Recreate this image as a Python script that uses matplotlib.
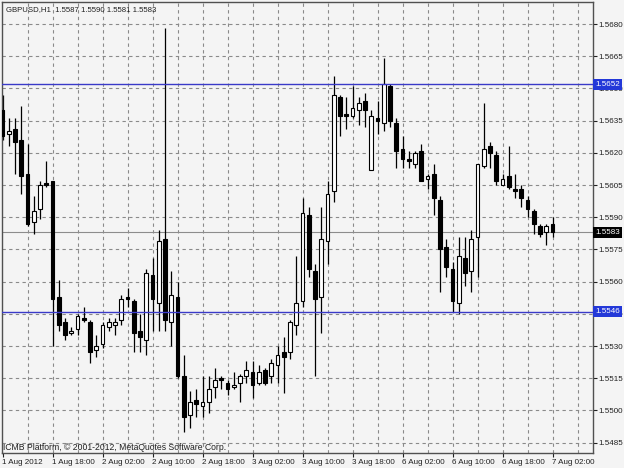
import matplotlib
matplotlib.use("Agg")
import matplotlib.pyplot as plt
import matplotlib.transforms as mtransforms

plt.rcParams['font.family'] = ['Liberation Sans', 'DejaVu Sans']

# GBPUSD H1, 1 Aug 2012 10:00 -> 7 Aug 2012 02:00
opens = [1.5640, 1.5629, 1.5631, 1.5626, 1.5610, 1.5588, 1.5594, 1.5606, 1.5607, 1.5553,
         1.5541, 1.5536, 1.5538, 1.5543, 1.5541, 1.5528, 1.5531, 1.5539, 1.5540, 1.5542,
         1.5553, 1.5551, 1.5537, 1.5533, 1.5563, 1.5550, 1.5580, 1.5541, 1.5553, 1.5516,
         1.5498, 1.5505, 1.5502, 1.5504, 1.5511, 1.5515, 1.5513, 1.5511, 1.5513, 1.5516,
         1.5518, 1.5513, 1.5519, 1.5516, 1.5521, 1.5527, 1.5527, 1.5540, 1.5551, 1.5591,
         1.5565, 1.5553, 1.5579, 1.5602, 1.5646, 1.5638, 1.5637, 1.5640, 1.5644, 1.5612,
         1.5636, 1.5634, 1.5651, 1.5634, 1.5622, 1.5617, 1.5615, 1.5621, 1.5608, 1.5610,
         1.5598, 1.5576, 1.5566, 1.5550, 1.5571, 1.5565, 1.5581, 1.5614, 1.5623, 1.5619,
         1.5605, 1.5609, 1.5603, 1.5603, 1.5598, 1.5593, 1.5586, 1.5583, 1.5587]
highs = [1.5647, 1.5636, 1.5636, 1.5642, 1.5624, 1.5600, 1.5607, 1.5616, 1.5607, 1.5561,
         1.5543, 1.5539, 1.5545, 1.5548, 1.5542, 1.5535, 1.5541, 1.5543, 1.5543, 1.5554,
         1.5557, 1.5552, 1.5545, 1.5566, 1.5571, 1.5584, 1.5678, 1.5565, 1.5560, 1.5526,
         1.5509, 1.5510, 1.5516, 1.5516, 1.5520, 1.5516, 1.5514, 1.5518, 1.5517, 1.5523,
         1.5523, 1.5521, 1.5520, 1.5524, 1.5530, 1.5534, 1.5542, 1.5572, 1.5599, 1.5595,
         1.5568, 1.5595, 1.5607, 1.5656, 1.5647, 1.5646, 1.5651, 1.5646, 1.5648, 1.5640,
         1.5644, 1.5664, 1.5652, 1.5636, 1.5628, 1.5621, 1.5621, 1.5624, 1.5610, 1.5615,
         1.5600, 1.5580, 1.5569, 1.5581, 1.5581, 1.5584, 1.5615, 1.5643, 1.5625, 1.5621,
         1.5610, 1.5623, 1.5610, 1.5605, 1.5600, 1.5594, 1.5587, 1.5587, 1.5590]
lows = [1.5626, 1.5623, 1.5610, 1.5601, 1.5586, 1.5582, 1.5589, 1.5604, 1.5530, 1.5537,
        1.5533, 1.5535, 1.5535, 1.5541, 1.5522, 1.5525, 1.5529, 1.5537, 1.5535, 1.5540,
        1.5548, 1.5527, 1.5527, 1.5526, 1.5537, 1.5537, 1.5537, 1.5530, 1.5515, 1.5490,
        1.5492, 1.5497, 1.5497, 1.5499, 1.5506, 1.5510, 1.5507, 1.5510, 1.5504, 1.5513,
        1.5506, 1.5512, 1.5512, 1.5513, 1.5513, 1.5508, 1.5524, 1.5535, 1.5548, 1.5562,
        1.5516, 1.5536, 1.5568, 1.5597, 1.5628, 1.5631, 1.5636, 1.5633, 1.5632, 1.5612,
        1.5629, 1.5630, 1.5632, 1.5613, 1.5613, 1.5613, 1.5613, 1.5607, 1.5603, 1.5591,
        1.5555, 1.5562, 1.5546, 1.5545, 1.5558, 1.5555, 1.5562, 1.5613, 1.5613, 1.5605,
        1.5605, 1.5603, 1.5599, 1.5595, 1.5590, 1.5582, 1.5581, 1.5577, 1.5581]
closes = [1.5628, 1.5630, 1.5625, 1.5609, 1.5587, 1.5593, 1.5605, 1.5605, 1.5552, 1.5540,
          1.5535, 1.5537, 1.5544, 1.5542, 1.5527, 1.5530, 1.5540, 1.5541, 1.5541, 1.5552,
          1.5552, 1.5536, 1.5534, 1.5564, 1.5552, 1.5579, 1.5542, 1.5554, 1.5516, 1.5497,
          1.5504, 1.5503, 1.5504, 1.5510, 1.5514, 1.5514, 1.5510, 1.5512, 1.5516, 1.5519,
          1.5512, 1.5518, 1.5513, 1.5522, 1.5526, 1.5525, 1.5541, 1.5550, 1.5592, 1.5566,
          1.5552, 1.5580, 1.5601, 1.5647, 1.5637, 1.5637, 1.5641, 1.5643, 1.5640, 1.5637,
          1.5635, 1.5652, 1.5635, 1.5621, 1.5617, 1.5616, 1.5620, 1.5607, 1.5609, 1.5599,
          1.5575, 1.5567, 1.5551, 1.5572, 1.5564, 1.5580, 1.5615, 1.5622, 1.5620, 1.5607,
          1.5608, 1.5604, 1.5602, 1.5599, 1.5594, 1.5587, 1.5582, 1.5586, 1.5583]

time_labels = ["1 Aug 2012", "1 Aug 18:00", "2 Aug 02:00", "2 Aug 10:00", "2 Aug 18:00",
               "3 Aug 02:00", "3 Aug 10:00", "3 Aug 18:00", "6 Aug 02:00", "6 Aug 10:00",
               "6 Aug 18:00", "7 Aug 02:00"]
price_ticks = [1.5485, 1.5500, 1.5515, 1.5530, 1.5545, 1.5560, 1.5575, 1.5590,
               1.5605, 1.5620, 1.5635, 1.5650, 1.5665, 1.5680]
level_lines = [1.5652, 1.5546]
last_price = 1.5583

bg = '#f4f4f4'
fig = plt.figure(figsize=(6.24, 4.68), dpi=100, facecolor=bg)
ax = fig.add_axes([2 / 624, 15 / 468, 591 / 624, 451 / 468], facecolor=bg)

n = len(opens)
xs = list(range(n))

# grid
for p in price_ticks:
    ax.axhline(p, color='#8a8a8a', lw=0.8, ls=(0, (3, 3)), zorder=0)
for i in range(4, 95, 4):
    ax.axvline(i, color='#8a8a8a', lw=0.8, ls=(0, (3, 3)), zorder=0)

# candles
ax.vlines(xs, lows, highs, color='black', lw=0.9, zorder=2)
bodies_h = [max(abs(c - o), 0.00003) for o, c in zip(opens, closes)]
bodies_b = [min(o, c) for o, c in zip(opens, closes)]
colors = ['white' if c > o else 'black' for o, c in zip(opens, closes)]
ax.bar(xs, bodies_h, bottom=bodies_b, width=0.62, color=colors,
       edgecolor='black', linewidth=0.8, zorder=3)

# horizontal levels
for lv in level_lines:
    ax.axhline(lv, color='#3a3ac8', lw=1.0, zorder=4)
ax.axhline(last_price, color='#8c8c8c', lw=0.8, zorder=1)

ax.set_xlim(-0.08, 94.48)
ax.set_ylim(1.548019, 1.569025)

ax.yaxis.tick_right()
ax.set_yticks(price_ticks)
ax.set_yticklabels([f"{p:.4f}" for p in price_ticks])
ax.set_xticks(list(range(0, 89, 8)))
ax.set_xticklabels(time_labels, ha='left')
ax.tick_params(axis='both', labelsize=5.8, colors='#202020', length=3, width=0.8, pad=1)
for s in ax.spines.values():
    s.set_color('#505050')
    s.set_linewidth(1.0)

# price label boxes on the right
trans = mtransforms.blended_transform_factory(ax.transAxes, ax.transData)
for lv in level_lines:
    ax.text(1.004, lv, f"{lv:.4f}", transform=trans, ha='left', va='center',
            fontsize=5.8, color='white', zorder=10, clip_on=False,
            bbox=dict(boxstyle='square,pad=0.25', fc='#2338d8', ec='none'))
ax.text(1.004, last_price, f"{last_price:.4f}", transform=trans, ha='left', va='center',
        fontsize=5.8, color='white', zorder=10, clip_on=False,
        bbox=dict(boxstyle='square,pad=0.25', fc='black', ec='none'))

ax.text(0.007, 0.99, "GBPUSD,H1  1.5587 1.5590 1.5581 1.5583", transform=ax.transAxes,
        ha='left', va='top', fontsize=5.6, color='#202020')
ax.text(0.001, 0.003, "ICMB Platform, \u00a9 2001-2012, MetaQuotes Software Corp.",
        transform=ax.transAxes, ha='left', va='bottom', fontsize=6.2, color='#202020')

fig.savefig('out.png', dpi=100, facecolor=bg)
